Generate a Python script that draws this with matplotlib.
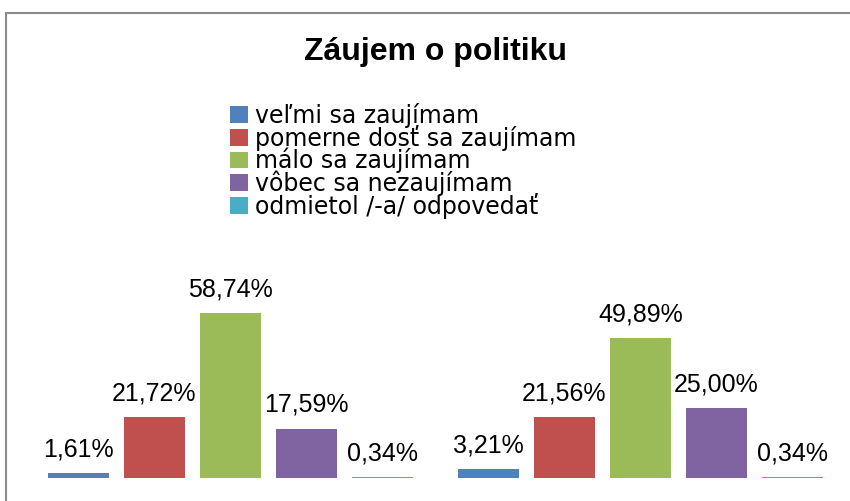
import matplotlib
matplotlib.use("Agg")
import matplotlib.pyplot as plt
from matplotlib.patches import Rectangle
import numpy as np

title = "Záujem o politiku"
categories = ["", ""]
series_names = ["veľmi sa zaujímam", "pomerne dosť sa zaujímam", "málo sa zaujímam",
                "vôbec sa nezaujímam", "odmietol /-a/ odpovedať"]
v_velmi = [1.61, 3.21]
v_pomerne = [21.72, 21.56]
v_malo = [58.74, 49.89]
v_vobec = [17.59, 25.00]
v_odmietol = [0.34, 0.34]
series_values = [v_velmi, v_pomerne, v_malo, v_vobec, v_odmietol]
colors = ["#4F81BD", "#C0504D", "#9BBB59", "#8064A2", "#4BACC6"]

W, H = 850, 501
fig = plt.figure(figsize=(W / 100, H / 100), dpi=100)

# outer chart border
fig.patches.append(Rectangle((6 / W, -0.1), 1.2, 1 - 13 / H + 0.1, transform=fig.transFigure,
                             fill=False, edgecolor="#8a8a8a", linewidth=1.5))

ax = fig.add_axes([25.5 / W, 23 / H, 820 / W, (70 * 2.808) / H])
ax.set_xlim(0, 2)
ax.set_ylim(0, 70)
ax.axis("off")

step = 0.1854
width = 0.15
x = np.arange(len(categories)) + 0.5
lab_font = ["Liberation Sans", "DejaVu Sans"]
for i, (name, vals, c) in enumerate(zip(series_names, series_values, colors)):
    xs = x + (i - 2) * step
    ax.bar(xs, vals, width=width, color=c, label=name)
    for xi, v in zip(xs, vals):
        ax.annotate(f"{v:.2f}%".replace(".", ","), (xi, v), xytext=(0, 12),
                    textcoords="offset points", ha="center", va="baseline",
                    fontsize=18, family=lab_font, clip_on=False)

fig.text(436 / W, 1 - 60 / H, title, ha="center", va="baseline", fontsize=23,
         fontweight="bold", family=["Liberation Sans", "DejaVu Sans"])

leg = fig.legend(loc="upper left", bbox_to_anchor=(230 / W, 1 - 103 / H),
                 frameon=False, handlelength=0.75, handleheight=0.7,
                 handletextpad=0.3, labelspacing=-0.13, borderpad=0, borderaxespad=0,
                 prop={"family": ["DejaVu Sans"], "size": 17})

fig.savefig("out.png", dpi=100)
